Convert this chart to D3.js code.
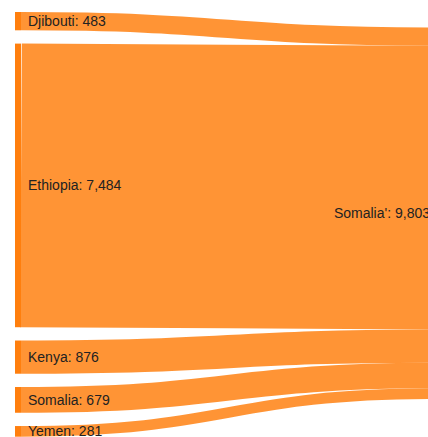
<!DOCTYPE html>
<html>
<head>
<meta charset="utf-8">
<script src="https://cdn.jsdelivr.net/npm/d3@7"></script>
<style>
  body { margin: 0; background: #fff; }
  svg { display: block; overflow: hidden; }
</style>
</head>
<body>
<svg id="chart" width="428" height="437"></svg>
<script>
const sources = ["Djibouti", "Ethiopia", "Kenya", "Somalia", "Yemen"];
const values = [483, 7484, 876, 679, 281];
const targetName = "Somalia'";

const width = 428;
const height = 437;
const nodeWidth = 6;
const nodePadding = 13.3;
const leftX = 15;
const rightX = 436;
const colTop = 12;
const colBottom = 436.7;
const targetTop = 27.5;

const total = d3.sum(values);
const fmt = d3.format(",");

// value -> pixel height
const y = d3
  .scaleLinear()
  .domain([0, total])
  .range([0, colBottom - colTop - nodePadding * (values.length - 1)]);

// stack the left nodes and the link ends on the target
let yl = colTop;
let yt = targetTop;
const nodes = sources.map((name, i) => {
  const h = y(values[i]);
  const n = { name, value: values[i], y0: yl, y1: yl + h, ty0: yt, ty1: yt + h };
  yl += h + nodePadding;
  yt += h;
  return n;
});

const svg = d3.select("#chart");

const link = d3
  .linkHorizontal()
  .x((d) => d[0])
  .y((d) => d[1]);

// left nodes
svg
  .append("g")
  .selectAll("rect")
  .data(nodes)
  .join("rect")
  .attr("x", leftX)
  .attr("y", (d) => d.y0)
  .attr("width", nodeWidth)
  .attr("height", (d) => d.y1 - d.y0)
  .attr("fill", "#ff7f0e");

// target node
svg
  .append("rect")
  .attr("x", rightX)
  .attr("y", targetTop)
  .attr("width", nodeWidth)
  .attr("height", y(total))
  .attr("fill", "#ff7f0e");

// links
svg
  .append("g")
  .attr("fill", "none")
  .selectAll("path")
  .data(nodes)
  .join("path")
  .attr("d", (d) =>
    link({
      source: [leftX + nodeWidth, (d.y0 + d.y1) / 2],
      target: [rightX, (d.ty0 + d.ty1) / 2],
    })
  )
  .attr("stroke", "#ff7f0e")
  .attr("stroke-opacity", 0.84)
  .attr("stroke-width", (d) => Math.max(1, d.y1 - d.y0));

// labels
const labels = svg
  .append("g")
  .attr("font-family", "'Liberation Sans', Arial, sans-serif")
  .attr("font-size", 14)
  .attr("fill", "#222");

labels
  .selectAll("text")
  .data(nodes)
  .join("text")
  .attr("x", leftX + nodeWidth + 7)
  .attr("y", (d) => (d.y0 + d.y1) / 2)
  .attr("dy", "0.35em")
  .attr("text-anchor", "start")
  .text((d) => `${d.name}: ${fmt(d.value)}`);

labels
  .append("text")
  .attr("x", rightX - 6)
  .attr("y", targetTop + y(total) / 2)
  .attr("dy", "0.35em")
  .attr("text-anchor", "end")
  .text(`${targetName}: ${fmt(total)}`);
</script>
</body>
</html>
